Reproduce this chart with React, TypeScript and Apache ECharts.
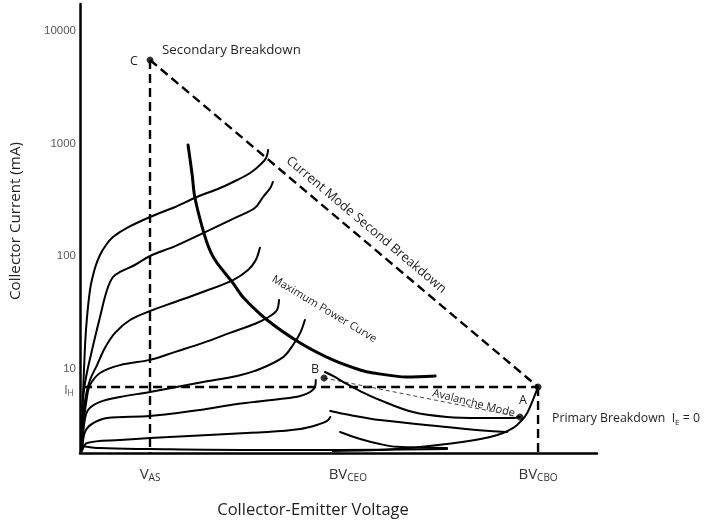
import { useEffect, useRef } from "react";
import * as echarts from "echarts";

// ---- axes ----
const Y_MIN = 1.755;
const Y_MAX = 17200;
const X_MIN = 0;
const X_MAX = 100;
const yTicks = [10, 100, 1000, 10000];
const xTickValues = [13.54, 51.8, 88.6];
const xTickMain = ["V", "BV", "BV"];
const xTickSub = ["AS", "CEO", "CBO"];

// ---- key values ----
const V_AS = 13.54;
const BV_CBO = 88.6;
const I_H = 6.78;
const pointC: [number, number] = [13.54, 5470];
const pointP: [number, number] = [88.6, 6.78];
const pointB: [number, number] = [47.2, 8.15];
const pointA: [number, number] = [85.1, 3.67];

// ---- characteristic curves [V, mA] ----
const curve1 = [[0.19, 1.87], [0.39, 3.45], [0.77, 9.6], [1.16, 21.8], [1.93, 49.3], [2.9, 77.4], [3.87, 101], [5.03, 124], [6.38, 146], [9.09, 176], [13.54, 220], [18.4, 270], [22.6, 331], [27.1, 398], [30.4, 469], [32.9, 541], [34.8, 637], [36.0, 736], [36.4, 867]];
const curve2 = [[0.39, 1.94], [0.39, 3.67], [0.97, 7.36], [2.32, 14.4], [3.87, 28.4], [5.22, 49.3], [6.38, 64.4], [7.74, 71.4], [10.6, 82.3], [13.54, 99], [18.4, 121], [23.8, 158], [30.4, 220], [33.8, 264], [35.4, 331], [36.8, 398], [37.3, 450]];
const curve3 = [[0.39, 2.07], [0.58, 3.45], [1.16, 5.75], [1.93, 7.82], [3.29, 10.6], [4.84, 15.1], [6.77, 20.5], [9.67, 26.7], [13.54, 32.1], [18.4, 38.6], [23.2, 46.4], [29.6, 60.5], [32.5, 74.3], [34.0, 91.2], [34.8, 117]];
const curve4 = [[0.39, 1.99], [0.77, 3.45], [1.35, 5.52], [1.93, 7.06], [3.87, 9.03], [7.74, 10.6], [13.54, 11.8], [18.4, 13.9], [23.8, 16.7], [29.0, 20.5], [34.2, 25.1], [36.8, 29.0], [38.1, 32.8], [38.5, 40.2]];
const curve5 = [[0.39, 1.905], [0.77, 3.11], [1.55, 4.23], [3.87, 4.99], [7.74, 5.52], [13.54, 6.12], [23.8, 7.51], [30.4, 8.49], [34.8, 9.8], [39.3, 12.5], [41.2, 16.0], [42.6, 20.5], [43.5, 26.7]];
const curve6 = [[0.39, 1.87], [0.97, 2.7], [2.32, 3.18], [5.22, 3.59], [13.54, 3.74], [23.2, 4.23], [30.4, 4.79], [38.7, 5.3], [42.6, 5.64], [44.5, 6.12], [45.5, 6.92], [45.6, 7.82]];
const curve7 = [[0.39, 1.83], [1.35, 2.15], [7.74, 2.29], [13.54, 2.39], [36.2, 2.7], [42.6, 2.87], [45.8, 3.11], [47.8, 3.38], [48.4, 3.67]];
const curve8 = [[0.19, 2.03], [3.87, 1.94], [13.54, 1.905], [32.9, 1.87], [50.3, 1.87], [71.0, 1.905]];
const avalancheCurve = [[47.4, 9.21], [49.3, 8.32], [51.6, 7.21], [54.2, 6.24], [58.0, 5.19], [64.4, 4.06], [71.0, 3.67], [77.4, 3.59], [83.8, 3.59], [85.1, 3.67]];
const rightCurve2 = [[48.4, 4.15], [52.2, 3.82], [58.0, 3.45], [71.0, 2.99], [79.3, 2.75], [82.6, 2.7]];
const rightCurve3 = [[50.3, 2.7], [54.2, 2.34], [58.0, 2.11], [61.3, 1.99], [71.0, 1.94]];
const breakdownCurve = [[48.9, 1.83], [61.3, 1.905], [71.0, 2.11], [76.4, 2.29], [80.7, 2.54], [83.8, 2.93], [85.5, 3.45], [86.5, 3.98], [87.6, 5.19], [88.6, 6.78]];
const maxPowerCurve = [[20.9, 959], [21.7, 519], [22.2, 331], [23.8, 168], [25.1, 112], [26.5, 85.8], [29.6, 56.9], [31.5, 42.8], [36.2, 26.7], [42.6, 16.7], [48.9, 11.8], [54.2, 9.6], [56.7, 9.03], [63.2, 8.32], [68.7, 8.49]];

const charCurves = [curve1, curve2, curve3, curve4, curve5, curve6, curve7, curve8, avalancheCurve, rightCurve2, rightCurve3, breakdownCurve];

const FONT = "'Open Sans', Lato, sans-serif";
const TXT = "#1f1f1f";

function isPow10(v: number) {
  const l = Math.log10(v);
  return Math.abs(l - Math.round(l)) < 1e-6;
}

export default function App() {
  const ref = useRef<HTMLDivElement>(null);
  useEffect(() => {
    const chart = echarts.init(ref.current!, undefined, { renderer: "svg" });
    const dashed = (data: number[][], width = 2.4) => ({
      type: "line",
      data,
      symbol: "none",
      silent: true,
      lineStyle: { color: "#000", width, type: [9, 5] },
      z: 3,
    });
    const solid = (data: number[][], width = 2) => ({
      type: "line",
      data,
      symbol: "none",
      silent: true,
      smooth: 0.35,
      lineStyle: { color: "#000", width, cap: "round", join: "round" },
      z: 4,
    });
    const sub = (main: number, subSize: number, color: string) => ({
      a: { fontSize: main, fontFamily: FONT, color, fill: color, lineHeight: main + 4, verticalAlign: "middle" },
      s: { fontSize: subSize, fontFamily: FONT, color, fill: color, lineHeight: subSize, verticalAlign: "bottom" },
    });
    const option: any = {
      animation: false,
      grid: { left: 80, right: 116, top: 4, bottom: 70, containLabel: false, outerBoundsMode: "none" },
      xAxis: {
        type: "value",
        min: X_MIN,
        max: X_MAX,
        axisLine: { show: true, onZero: false, lineStyle: { color: "#000", width: 2.5 } },
        axisTick: { show: false },
        splitLine: { show: false },
        axisLabel: {
          customValues: xTickValues,
          margin: 10,
          formatter: (v: number) => {
            let idx = -1;
            xTickValues.forEach((t, i) => { if (Math.abs(t - v) < 0.01) idx = i; });
            return idx < 0 ? "" : `{a|${xTickMain[idx]}}{s|${xTickSub[idx]}}`;
          },
          rich: {
            a: { fontSize: 15, fontFamily: FONT, color: "#333", lineHeight: 19, verticalAlign: "middle" },
            s: { fontSize: 10, fontFamily: FONT, color: "#333", lineHeight: 10, verticalAlign: "bottom" },
          },
        },
      },
      yAxis: {
        type: "log",
        logBase: 10,
        min: Y_MIN,
        max: Y_MAX,
        axisLine: { show: true, onZero: false, lineStyle: { color: "#000", width: 2.5 } },
        axisTick: { show: false },
        splitLine: { show: false },
        axisLabel: {
          margin: 4,
          color: "#595959",
          fontFamily: "'Liberation Sans', Arial, sans-serif",
          fontSize: 11.5,
          formatter: (v: number) => (isPow10(v) && yTicks.some((t) => Math.abs(t - v) < 1e-6 * t) ? String(Math.round(v)) : ""),
        },
      },
      series: [
        dashed([pointC, pointP]),
        dashed([[V_AS, pointC[1]], [V_AS, Y_MIN]]),
        dashed([[0.6, I_H], [BV_CBO, I_H]]),
        dashed([[BV_CBO, I_H], [BV_CBO, Y_MIN]]),
        { ...dashed([pointB, pointA], 1), lineStyle: { color: "#444", width: 1, type: [4, 3] } },
        ...charCurves.map((c) => solid(c, 2)),
        { ...solid(maxPowerCurve, 3), smooth: 0.3 },
        {
          type: "scatter",
          data: [pointC, pointP, pointB, pointA],
          symbolSize: 7,
          itemStyle: { color: "#000" },
          silent: true,
          z: 6,
        },
      ],
      graphic: [
        { type: "text", x: 14, y: 221, rotation: Math.PI / 2, style: { text: "Collector Current (mA)", font: `15.2px ${FONT}`, fill: TXT, align: "center", verticalAlign: "middle" } },
        { type: "text", x: 313, y: 508, style: { text: "Collector-Emitter Voltage", font: `16.5px ${FONT}`, fill: TXT, align: "center", verticalAlign: "middle" } },
        { type: "text", x: 162, y: 49, style: { text: "Secondary Breakdown", font: `13.3px ${FONT}`, fill: TXT, align: "left", verticalAlign: "middle" } },
        { type: "text", x: 134, y: 60, style: { text: "C", font: `12.5px ${FONT}`, fill: TXT, align: "center", verticalAlign: "middle" } },
        { type: "text", x: 315, y: 368, style: { text: "B", font: `12.5px ${FONT}`, fill: TXT, align: "center", verticalAlign: "middle" } },
        { type: "text", x: 523, y: 399, style: { text: "A", font: `12.5px ${FONT}`, fill: TXT, align: "center", verticalAlign: "middle" } },
        { type: "text", x: 367, y: 224, rotation: -0.7, style: { text: "Current Mode Second Breakdown", font: `13px ${FONT}`, fill: TXT, align: "center", verticalAlign: "middle" } },
        { type: "text", x: 325, y: 308, rotation: -0.54, style: { text: "Maximum Power Curve", font: `11px ${FONT}`, fill: TXT, align: "center", verticalAlign: "middle" } },
        { type: "text", x: 474, y: 402, rotation: -0.245, style: { text: "Avalanche Mode", font: `11px ${FONT}`, fill: TXT, align: "center", verticalAlign: "middle" } },
        { type: "text", x: 552, y: 417, style: { text: "{a|Primary Breakdown  I}{s|E}{a| = 0}", rich: sub(12.3, 8, TXT), align: "left", verticalAlign: "middle" } },
        { type: "text", x: 69, y: 389, style: { text: "{a|I}{s|H}", rich: sub(12.5, 8.5, "#595959"), align: "center", verticalAlign: "middle" } },
      ],
    };
    chart.setOption(option);
    return () => chart.dispose();
  }, []);
  return <div ref={ref} style={{ position: "fixed", left: 0, top: 0, width: 713, height: 523 }} />;
}
